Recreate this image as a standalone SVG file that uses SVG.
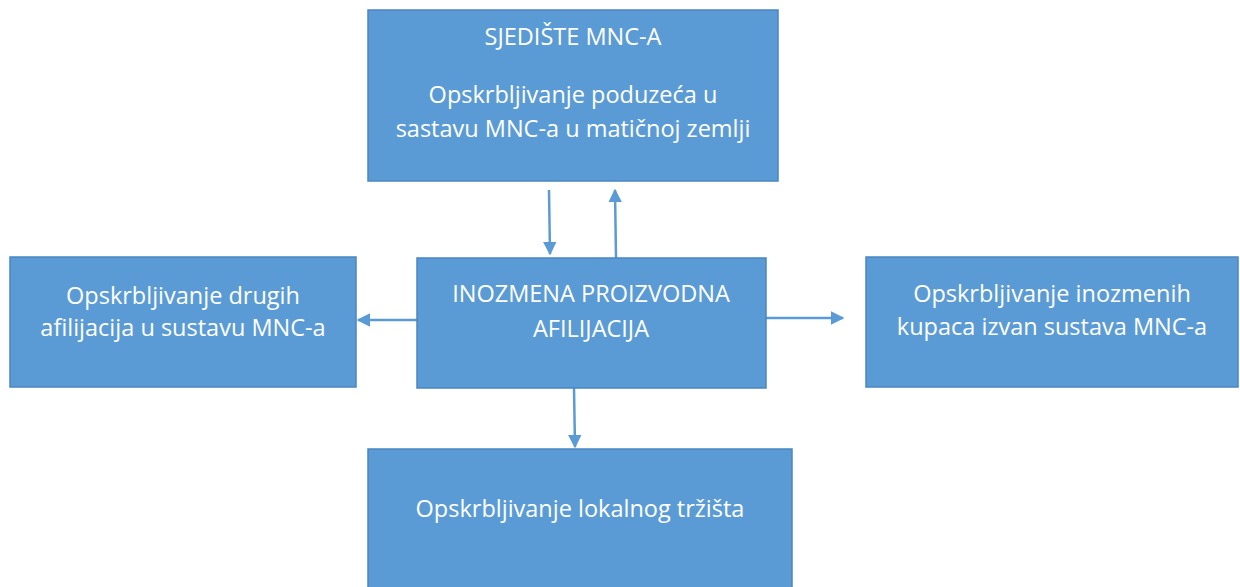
<svg xmlns="http://www.w3.org/2000/svg" width="1240" height="587" viewBox="0 0 1240 587">
<style>
.box{fill:#5b9bd5;stroke:#4a86c2;stroke-width:1.5}
.t{font-family:"Open Sans","Noto Sans",sans-serif;font-size:23.5px;fill:#ffffff;text-anchor:middle}
.c{stroke:#5b9bd5;stroke-width:2.5;fill:none}
</style>
<defs>
<marker id="ah" viewBox="0 0 10 10" refX="9" refY="5" markerWidth="5.5" markerHeight="5.5" orient="auto" markerUnits="strokeWidth">
<path d="M0,0 L10,5 L0,10 z" fill="#5b9bd5"/>
</marker>
</defs>
<rect width="1240" height="587" fill="#ffffff"/>
<g id="connectors">
<line class="c" x1="549" y1="190" x2="550" y2="254" marker-end="url(#ah)"/>
<line class="c" x1="616" y1="258" x2="615" y2="190" marker-end="url(#ah)"/>
<line class="c" x1="417" y1="320" x2="358" y2="320" marker-end="url(#ah)"/>
<line class="c" x1="766" y1="318" x2="843" y2="318" marker-end="url(#ah)"/>
<line class="c" x1="574" y1="388" x2="575" y2="447" marker-end="url(#ah)"/>
</g>
<g id="hq">
<rect class="box" x="368" y="10" width="410" height="171"/>
<text class="t" x="573" y="45">SJEDIŠTE MNC-A</text>
<text class="t" x="573" y="103">Opskrbljivanje poduzeća u</text>
<text class="t" x="573" y="137">sastavu MNC-a u matičnoj zemlji</text>
</g>
<g id="other-affiliates">
<rect class="box" x="10" y="257" width="346" height="130"/>
<text class="t" x="183" y="304">Opskrbljivanje drugih</text>
<text class="t" x="183" y="336">afilijacija u sustavu MNC-a</text>
</g>
<g id="affiliate">
<rect class="box" x="417" y="258" width="349" height="130"/>
<text class="t" x="591" y="302">INOZMENA PROIZVODNA</text>
<text class="t" x="591" y="337">AFILIJACIJA</text>
</g>
<g id="foreign-customers">
<rect class="box" x="866" y="257" width="372" height="130"/>
<text class="t" x="1052" y="302">Opskrbljivanje inozmenih</text>
<text class="t" x="1052" y="335">kupaca izvan sustava MNC-a</text>
</g>
<g id="local-market">
<rect class="box" x="368" y="449" width="424" height="145"/>
<text class="t" x="580" y="517">Opskrbljivanje lokalnog tržišta</text>
</g>
</svg>
